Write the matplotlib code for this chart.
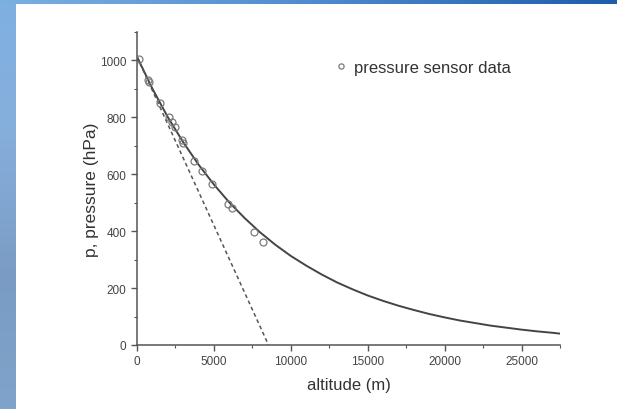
import numpy as np
import matplotlib
matplotlib.use("Agg")
import matplotlib.pyplot as plt
from matplotlib.ticker import MultipleLocator
from matplotlib.colors import LinearSegmentedColormap

plt.rcParams['font.family'] = ['Liberation Sans', 'DejaVu Sans']

# sensor data (altitude m, pressure hPa)
alt_data = [100, 700, 800, 1500, 2100, 2300, 2500, 2900, 3000, 3700, 4200, 4900, 5900, 6200, 7600, 8200]
p_data = [1005, 930, 925, 850, 800, 785, 765, 720, 710, 648, 612, 565, 495, 480, 398, 363]

# barometric curve (solid)
alt_curve = [0, 1000, 2000, 3000, 4000, 5000, 6000, 7000, 8000, 9000, 10000, 11000, 12000,
             13000, 14000, 15000, 16000, 17000, 18000, 19000, 20000, 21000, 22000, 23000,
             24000, 25000, 26000, 27000, 27500]
p_curve = [1013, 901, 801, 713, 634, 564, 501, 446, 396, 352, 313, 279, 248,
           220, 196, 174, 155, 138, 123, 109, 97, 86, 77, 68,
           61, 54, 48, 43, 40]

# linear approximation (dashed)
alt_lin = [0, 8550]
p_lin = [1013, 0]

W, H = 617, 410
fig = plt.figure(figsize=(W / 100, H / 100), dpi=100)

# blue frame strips
top = fig.add_axes([0, 1 - 5 / H, 1, 5 / H])
grad_h = np.linspace(0, 1, 256).reshape(1, -1)
cm_top = LinearSegmentedColormap.from_list('t', ['#7cb0e2', '#4f8ccf', '#1e5dab'])
top.imshow(grad_h, aspect='auto', cmap=cm_top, extent=[0, 1, 0, 1])
top.axis('off')
left = fig.add_axes([0, 0, 16 / W, 1 - 5 / H])
grad_v = np.linspace(0, 1, 256).reshape(-1, 1)
cm_left = LinearSegmentedColormap.from_list('l', ['#7fa3ca', '#7a9cc4', '#86aedb', '#7fb0e2'])
left.imshow(grad_v, aspect='auto', cmap=cm_left, extent=[0, 1, 0, 1], origin='lower')
left.axis('off')

ax = fig.add_axes([137 / W, 64 / H, 423 / W, 313 / H])
axc = '#555555'
ax.plot(alt_curve, p_curve, color='#444444', lw=1.4, zorder=3)
ax.plot(alt_lin, p_lin, color='#555555', lw=1.1, ls=(0, (2.5, 2)), zorder=3)
ax.plot(alt_data, p_data, ls='none', marker='o', ms=5, mfc='none', mec='#7a7a7a',
        mew=0.9, label='pressure sensor data', zorder=4)

ax.set_xlim(0, 27500)
ax.set_ylim(0, 1100)
ax.xaxis.set_major_locator(MultipleLocator(5000))
ax.xaxis.set_minor_locator(MultipleLocator(2500))
ax.yaxis.set_major_locator(MultipleLocator(200))
ax.yaxis.set_minor_locator(MultipleLocator(100))
for s in ['top', 'right']:
    ax.spines[s].set_visible(False)
for s in ['left', 'bottom']:
    ax.spines[s].set_color(axc)
    ax.spines[s].set_linewidth(1.1)
ax.tick_params(which='major', direction='out', length=4, width=1, color=axc,
               labelsize=8.5, labelcolor='#444444')
ax.tick_params(which='minor', direction='out', length=2.5, width=0.8, color=axc)
ax.set_xlabel('altitude (m)', fontsize=12, color='#333333', labelpad=7)
ax.set_ylabel('p, pressure (hPa)', fontsize=12.5, color='#333333', labelpad=1)

leg = fig.legend(loc='center left', bbox_to_anchor=(334.5 / W, (H - 68) / H),
                 bbox_transform=fig.transFigure, frameon=False, borderpad=0,
                 borderaxespad=0, fontsize=12, handlelength=0.8, handletextpad=0.4,
                 markerscale=0.75, labelcolor='#333333')

fig.savefig('out.png', dpi=100)
